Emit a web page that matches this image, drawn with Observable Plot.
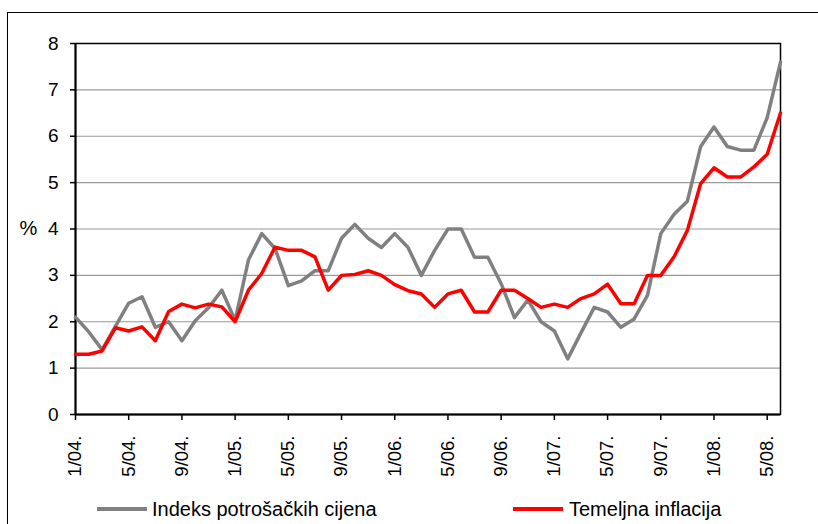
<!DOCTYPE html>
<html>
<head>
<meta charset="utf-8">
<script src="https://cdn.jsdelivr.net/npm/d3@7"></script>
<script src="https://cdn.jsdelivr.net/npm/@observablehq/plot@0.6"></script>
<style>
  html, body { margin: 0; padding: 0; background: #fff; width: 818px; height: 524px; overflow: hidden; }
  body { font-family: "Liberation Sans", Arial, sans-serif; position: relative; }
  #frame { position: absolute; left: 7px; top: 12px; width: 811px; height: 512px; border-left: 1px solid #000; border-top: 1px solid #000; box-sizing: border-box; }
  #chart { position: absolute; left: 0; top: 0; }
  .lg { position: absolute; font-size: 20px; color: #000; line-height: 20px; }
  .sw { position: absolute; height: 4px; }
</style>
</head>
<body>
<div id="frame"></div>
<div id="chart"></div>
<div class="sw" style="left:97px; top:507px; width:50px; background:#808080;"></div>
<div class="lg" style="left:152px; top:499px;">Indeks potrošačkih cijena</div>
<div class="sw" style="left:513px; top:507px; width:50px; background:#ff0000;"></div>
<div class="lg" style="left:569px; top:499px;">Temeljna inflacija</div>
<script>
const months = [
  "1/04.","2/04.","3/04.","4/04.","5/04.","6/04.","7/04.","8/04.","9/04.","10/04.","11/04.","12/04.",
  "1/05.","2/05.","3/05.","4/05.","5/05.","6/05.","7/05.","8/05.","9/05.","10/05.","11/05.","12/05.",
  "1/06.","2/06.","3/06.","4/06.","5/06.","6/06.","7/06.","8/06.","9/06.","10/06.","11/06.","12/06.",
  "1/07.","2/07.","3/07.","4/07.","5/07.","6/07.","7/07.","8/07.","9/07.","10/07.","11/07.","12/07.",
  "1/08.","2/08.","3/08.","4/08.","5/08.","6/08."
];
const cpi = [
  2.1, 1.78, 1.4, 1.9, 2.4, 2.54, 1.88, 2.0, 1.59, 2.02, 2.3, 2.68,
  2.03, 3.33, 3.9, 3.58, 2.78, 2.88, 3.1, 3.1, 3.8, 4.1, 3.8, 3.6,
  3.9, 3.6, 3.0, 3.54, 4.0, 4.0, 3.39, 3.39, 2.82, 2.09, 2.47, 2.0,
  1.8, 1.2, 1.76, 2.31, 2.21, 1.88, 2.06, 2.57, 3.9, 4.32, 4.6, 5.78,
  6.2, 5.78, 5.7, 5.7, 6.4, 7.6
];
const core = [
  1.3, 1.3, 1.37, 1.87, 1.8, 1.89, 1.59, 2.22, 2.38, 2.3, 2.38, 2.32,
  2.0, 2.68, 3.04, 3.61, 3.54, 3.54, 3.4, 2.68, 3.0, 3.02, 3.1, 3.0,
  2.8, 2.67, 2.6, 2.31, 2.6, 2.68, 2.21, 2.21, 2.68, 2.68, 2.5, 2.31,
  2.38, 2.31, 2.5, 2.6, 2.81, 2.39, 2.39, 3.0, 3.0, 3.4, 3.97, 4.98,
  5.32, 5.12, 5.12, 5.34, 5.61, 6.5
];
const tickLabels = ["1/04.","5/04.","9/04.","1/05.","5/05.","9/05.","1/06.","5/06.","9/06.","1/07.","5/07.","9/07.","1/08.","5/08."];
const yTicks = [0, 1, 2, 3, 4, 5, 6, 7, 8];

const cpiRows = months.map((m, i) => ({i, v: cpi[i]}));
const coreRows = months.map((m, i) => ({i, v: core[i]}));
const xTicks = tickLabels.map(t => months.indexOf(t));

const chart = Plot.plot({
  width: 818,
  height: 490,
  marginLeft: 75,
  marginRight: 38,
  marginTop: 43,
  marginBottom: 76,
  style: {fontFamily: '"Liberation Sans", Arial, sans-serif', background: "transparent", color: "#000"},
  x: {type: "linear", domain: [0, months.length - 1]},
  y: {domain: [0, 8]},
  marks: [
    Plot.gridY(yTicks, {stroke: "#999999", strokeOpacity: 1, strokeWidth: 1.2}),
    Plot.frame({stroke: "#000", strokeWidth: 1.5}),
    Plot.axisY({ticks: yTicks, tickSize: 5, tickPadding: 12, fontSize: 19, label: null, stroke: "#000", strokeWidth: 1.5}),
    Plot.axisX({ticks: xTicks, tickFormat: i => months[i], tickRotate: -90, tickSize: 6, tickPadding: 15, fontSize: 18.5, label: null, stroke: "#000", strokeWidth: 1.5}),
    Plot.ruleX([0], {stroke: "#000", strokeWidth: 2}),
    Plot.ruleY([0], {stroke: "#000", strokeWidth: 2}),
    Plot.line(cpiRows, {x: "i", y: "v", stroke: "#808080", strokeWidth: 3.5}),
    Plot.line(coreRows, {x: "i", y: "v", stroke: "#ff0000", strokeWidth: 3.5}),
    Plot.text(["%"], {frameAnchor: "left", dx: -47, fontSize: 20, textAnchor: "middle", fill: "#000"})
  ]
});
document.getElementById("chart").appendChild(chart);
</script>
</body>
</html>
